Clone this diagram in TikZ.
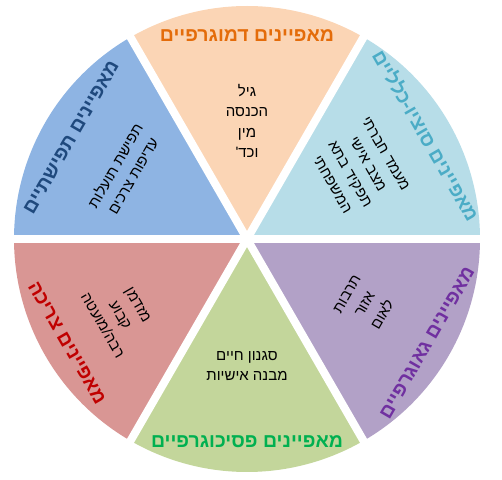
\documentclass[tikz,border=0pt]{standalone}
\usepackage{fontspec}
\setmainfont{Liberation Sans}
\newfontfamily\hebfont[Script=Hebrew]{Liberation Sans}
\TeXXeTstate=1
\usetikzlibrary{calc}

\newcommand{\rtl}[1]{\beginR #1\endR}

\definecolor{demofill}{HTML}{FBD5B5}
\definecolor{sociofill}{HTML}{B7DDE8}
\definecolor{geofill}{HTML}{B2A1C7}
\definecolor{psyfill}{HTML}{C3D69B}
\definecolor{consfill}{HTML}{D99694}
\definecolor{percfill}{HTML}{8EB4E3}
\definecolor{demotext}{HTML}{E46C0A}
\definecolor{sociotext}{HTML}{4BACC6}
\definecolor{geotext}{HTML}{7030A0}
\definecolor{psytext}{HTML}{00B050}
\definecolor{constext}{HTML}{C00000}
\definecolor{perctext}{HTML}{1F497D}

\tikzset{
  slice gap/.style = {line width=8pt, white},
  title/.style     = {font=\hebfont\bfseries\fontsize{19.5}{22}\selectfont, inner sep=0pt},
  body/.style      = {font=\hebfont\fontsize{15}{20.5}\selectfont, align=center, inner sep=0pt},
}

\begin{document}
\begin{tikzpicture}[x=1pt, y=1pt]
  \useasboundingbox (0,0) rectangle (502,479);
  \coordinate (ctr) at (247,240);

  % ---- six slices, then white gaps between them ---------------------------
  \foreach \a/\col in {60/demofill, 0/sociofill, -60/geofill,
                       240/psyfill, 180/consfill, 120/percfill}
    \fill[\col] (ctr) -- ++(\a:233) arc[start angle=\a, end angle=\a+60, radius=233] -- cycle;
  \foreach \a in {0,60,120}
    \draw[slice gap] ($(ctr)+(\a:240)$) -- ($(ctr)+(\a+180:240)$);

  % ---- titles along the rim -----------------------------------------------
  \node[title, text=demotext] (demoTitle) at ($(ctr)+(90:203)$)
       {\rtl{מאפיינים דמוגרפיים}};
  \node[title, text=sociotext, rotate=-60] (socioTitle) at ($(ctr)+(30:207)$)
       {\rtl{מאפיינים סוציו-כלליים}};
  \node[title, text=geotext, rotate=60] (geoTitle) at ($(ctr)+(-30:208)$)
       {\rtl{מאפיינים גאוגרפיים}};
  \node[title, text=psytext] (psyTitle) at ($(ctr)+(270:203)$)
       {\rtl{מאפיינים פסיכוגרפיים}};
  \node[title, text=constext, rotate=-60] (consTitle) at ($(ctr)+(210:208)$)
       {\rtl{מאפיינים צריכה}};
  \node[title, text=perctext, rotate=60] (percTitle) at ($(ctr)+(150:203)$)
       {\rtl{מאפיינים תפישתיים}};

  % ---- contents of each slice ---------------------------------------------
  \node[body] (demoBody) at ($(ctr)+(90:118)$)
       {\rtl{גיל}\\ \rtl{הכנסה}\\ \rtl{מין}\\ \rtl{וכד'}};
  \node[body, rotate=-60] (socioBody) at ($(ctr)+(32:132)$)
       {\rtl{מעמד חברתי}\\ \rtl{מצב אישי}\\ \rtl{תפקיד בתא}\\ \rtl{המשפחתי}};
  \node[body, rotate=60] (geoBody) at ($(ctr)+(-29:135)$)
       {\rtl{תרבות}\\ \rtl{אזור}\\ \rtl{לאום}};
  \node[body] (psyBody) at ($(ctr)+(270:127)$)
       {\rtl{סגנון חיים}\\ \rtl{מבנה אישיות}};
  \node[body, rotate=-60] (consBody) at ($(ctr)+(211:148)$)
       {\rtl{מזדמן}\\ \rtl{קבוע}\\ \rtl{רבה/מועטה}};
  \node[body, rotate=60] (percBody) at ($(ctr)+(151:141)$)
       {\rtl{תפישת תועלות}\\ \rtl{עדיפות צרכים}};
\end{tikzpicture}
\end{document}
